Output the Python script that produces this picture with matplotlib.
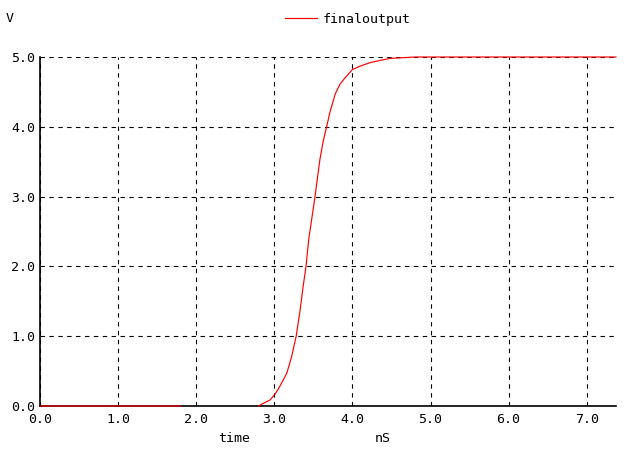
import matplotlib
matplotlib.use("Agg")
import matplotlib.pyplot as plt

# waveform (time in nS, value in V); None = gap in the trace
czas = [0.0, 1.8, 1.81, 2.8, 2.817, 2.945, 3.01, 3.07, 3.16, 3.22, 3.28, 3.33,
        3.37, 3.406, 3.44, 3.521, 3.585, 3.627, 3.67, 3.71, 3.78, 3.84, 3.905,
        4.0, 4.10, 4.23, 4.35, 4.48, 4.80, 7.375]
napiecie = [0.0, 0.0, None, 0.0, 0.014, 0.086, 0.17, 0.28, 0.47, 0.70, 1.0,
            1.37, 1.72, 2.0, 2.38, 3.0, 3.54, 3.80, 4.0, 4.20, 4.47, 4.61,
            4.70, 4.82, 4.87, 4.92, 4.95, 4.98, 5.0, 5.0]
xticks = [0, 1, 2, 3, 4, 5, 6, 7]
yticks = [0, 1, 2, 3, 4, 5]

font = "DejaVu Sans Mono"
fs = 9.5

y = [float("nan") if v is None else v for v in napiecie]

fig = plt.figure(figsize=(6.32, 4.58), dpi=100)
ax = fig.add_axes([40 / 632, 52 / 458, 576 / 632, 349 / 458])
ax.plot(czas, y, color="#ff0000", lw=0.85, label="finaloutput",
        zorder=4, clip_on=False)
ax.set_xlim(0, 7.375)
ax.set_ylim(0, 5)
ax.set_xticks(xticks)
ax.set_yticks(yticks)
ax.set_xticklabels(["%.1f" % t for t in xticks], family=font, fontsize=fs)
ax.set_yticklabels(["%.1f" % t for t in yticks], family=font, fontsize=fs)
ax.tick_params(axis="x", length=0, pad=5)
ax.tick_params(axis="y", length=0, pad=3.5)
ax.grid(True, color="black", ls=(0, (4, 4)), lw=0.8)
ax.spines["top"].set_visible(False)
ax.spines["right"].set_visible(False)
for s in ("left", "bottom"):
    ax.spines[s].set_linewidth(1.2)

fig.text(6 / 632, 1 - 18 / 458, "V", family=font, fontsize=fs, va="center")
fig.text(234 / 632, 1 - 438 / 458, "time", family=font, fontsize=fs,
         ha="center", va="center")
fig.text(383 / 632, 1 - 438 / 458, "nS", family=font, fontsize=fs,
         ha="center", va="center")
fig.legend(loc="center", bbox_to_anchor=(348 / 632, 1 - 19 / 458),
           frameon=False, prop={"family": font, "size": fs},
           handlelength=2.4, handletextpad=0.5, borderpad=0)

fig.savefig("out.png", dpi=100)
